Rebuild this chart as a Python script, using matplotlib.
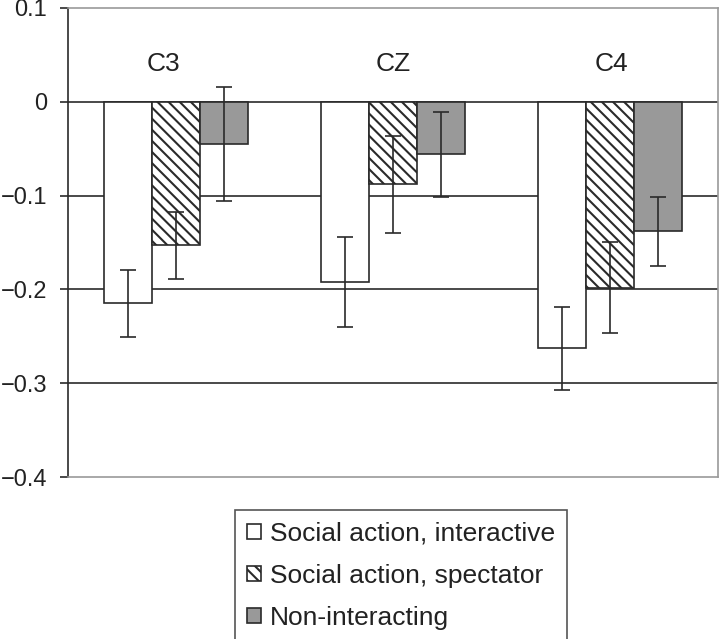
import numpy as np
import matplotlib.pyplot as plt

plt.rcParams['font.family'] = ['Liberation Sans', 'DejaVu Sans']
plt.rcParams['hatch.linewidth'] = 1.5
plt.rcParams['hatch.color'] = '#222222'

# data
sites = ['C3', 'CZ', 'C4']
site_label_x = [-0.06, 0.0, 0.01]
conditions = ['Social action, interactive', 'Social action, spectator', 'Non-interacting']
means = {
    'Social action, interactive': [-0.215, -0.192, -0.263],
    'Social action, spectator': [-0.153, -0.088, -0.198],
    'Non-interacting': [-0.045, -0.056, -0.138],
}
errors = {
    'Social action, interactive': [0.036, 0.048, 0.044],
    'Social action, spectator': [0.036, 0.052, 0.048],
    'Non-interacting': [0.061, 0.045, 0.037],
}
fills = ['white', 'white', '#999999']
hatches = ['', '\\\\\\', '']

fig = plt.figure(figsize=(7.2, 6.39), dpi=100)
ax = fig.add_axes([68/720, 1 - 477/639, 650/720, 469/639])

x = np.arange(len(sites))
w = 0.222
edge = '#2a2a2a'
for i, cond in enumerate(conditions):
    ax.bar(x + (i - 1) * w, means[cond], w, color=fills[i], hatch=hatches[i],
           edgecolor=edge, linewidth=1.2, label=cond, zorder=2)
    ax.errorbar(x + (i - 1) * w, means[cond], yerr=errors[cond], fmt='none',
                ecolor=edge, elinewidth=1.2, capsize=5.5, capthick=1.2, zorder=3)

for s, sx, xi in zip(sites, site_label_x, x):
    ax.text(xi + sx, 0.04, s, ha='center', va='center', fontsize=19, color='#222222')

ax.set_xlim(-0.5, 2.5)
ax.set_ylim(-0.4, 0.1)
yt = [0.1, 0, -0.1, -0.2, -0.3, -0.4]
ax.set_yticks(yt)
ax.set_yticklabels(['0.1', '0', '\u22120.1', '\u22120.2', '\u22120.3', '\u22120.4'])
ax.set_xticks([])
ax.tick_params(axis='y', labelsize=17, length=6, width=1.2, pad=9,
               color=edge, labelcolor='#222222')
for y in [0, -0.1, -0.2, -0.3]:
    ax.axhline(y, color=edge, linewidth=1.2, zorder=1)
for sp in ['top', 'bottom', 'right']:
    ax.spines[sp].set_color('#999999')
    ax.spines[sp].set_linewidth(1.2)
ax.spines['left'].set_color(edge)
ax.spines['left'].set_linewidth(1.2)

leg = fig.legend(loc='upper center', bbox_to_anchor=(401/720, 1 - 510/639), fontsize=19,
                 frameon=True, fancybox=False, edgecolor=edge, handlelength=0.53,
                 handleheight=0.53, handletextpad=0.34, labelspacing=0.68,
                 borderpad=0.45, borderaxespad=0)
leg.get_frame().set_linewidth(1.2)
for t in leg.get_texts():
    t.set_color('#222222')

fig.savefig('out.png', dpi=100)
